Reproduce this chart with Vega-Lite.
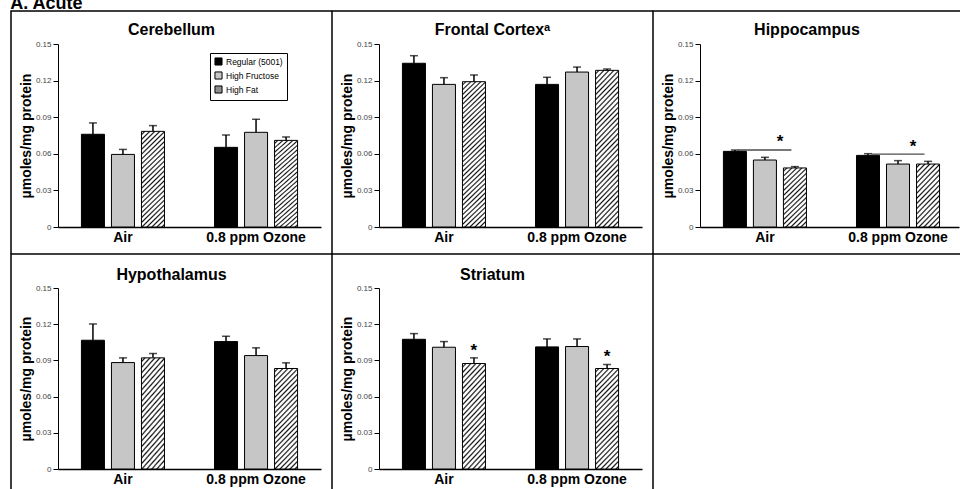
{
  "$schema": "https://vega.github.io/schema/vega-lite/v6.json",
  "padding": {"left": 10, "top": -5, "right": -2, "bottom": -2},
  "title": {"text": "A. Acute", "anchor": "start", "frame": "bounds", "fontSize": 18, "fontWeight": "bold", "color": "black", "offset": -3, "baseline": "top"},
  "columns": 3,
  "spacing": 0,
  "bounds": "flush",
  "resolve": {"scale": {"x": "independent", "y": "independent", "xOffset": "independent", "fill": "independent"}, "legend": {"fill": "independent"}},
  "datasets": {
    "bars": [
      {"region": "Cerebellum", "exposure": "Air", "diet": "Regular (5001)", "mean": 0.0760, "upper": 0.0853},
      {"region": "Cerebellum", "exposure": "Air", "diet": "High Fructose", "mean": 0.0595, "upper": 0.0636},
      {"region": "Cerebellum", "exposure": "Air", "diet": "High Fat", "mean": 0.0784, "upper": 0.0831},
      {"region": "Cerebellum", "exposure": "0.8 ppm Ozone", "diet": "Regular (5001)", "mean": 0.0653, "upper": 0.0754},
      {"region": "Cerebellum", "exposure": "0.8 ppm Ozone", "diet": "High Fructose", "mean": 0.0776, "upper": 0.0883},
      {"region": "Cerebellum", "exposure": "0.8 ppm Ozone", "diet": "High Fat", "mean": 0.0710, "upper": 0.0738},
      {"region": "Frontal Cortex", "exposure": "Air", "diet": "Regular (5001)", "mean": 0.1342, "upper": 0.1404},
      {"region": "Frontal Cortex", "exposure": "Air", "diet": "High Fructose", "mean": 0.1169, "upper": 0.1224},
      {"region": "Frontal Cortex", "exposure": "Air", "diet": "High Fat", "mean": 0.1191, "upper": 0.1246},
      {"region": "Frontal Cortex", "exposure": "0.8 ppm Ozone", "diet": "Regular (5001)", "mean": 0.1169, "upper": 0.1227},
      {"region": "Frontal Cortex", "exposure": "0.8 ppm Ozone", "diet": "High Fructose", "mean": 0.1270, "upper": 0.1311},
      {"region": "Frontal Cortex", "exposure": "0.8 ppm Ozone", "diet": "High Fat", "mean": 0.1284, "upper": 0.1295},
      {"region": "Hippocampus", "exposure": "Air", "diet": "Regular (5001)", "mean": 0.0620, "upper": 0.0631},
      {"region": "Hippocampus", "exposure": "Air", "diet": "High Fructose", "mean": 0.0549, "upper": 0.0571},
      {"region": "Hippocampus", "exposure": "Air", "diet": "High Fat", "mean": 0.0484, "upper": 0.0495},
      {"region": "Hippocampus", "exposure": "0.8 ppm Ozone", "diet": "Regular (5001)", "mean": 0.0587, "upper": 0.0601},
      {"region": "Hippocampus", "exposure": "0.8 ppm Ozone", "diet": "High Fructose", "mean": 0.0516, "upper": 0.0544},
      {"region": "Hippocampus", "exposure": "0.8 ppm Ozone", "diet": "High Fat", "mean": 0.0516, "upper": 0.0538},
      {"region": "Hypothalamus", "exposure": "Air", "diet": "Regular (5001)", "mean": 0.1067, "upper": 0.1202},
      {"region": "Hypothalamus", "exposure": "Air", "diet": "High Fructose", "mean": 0.0882, "upper": 0.0921},
      {"region": "Hypothalamus", "exposure": "Air", "diet": "High Fat", "mean": 0.0921, "upper": 0.0957},
      {"region": "Hypothalamus", "exposure": "0.8 ppm Ozone", "diet": "Regular (5001)", "mean": 0.1056, "upper": 0.1100},
      {"region": "Hypothalamus", "exposure": "0.8 ppm Ozone", "diet": "High Fructose", "mean": 0.0940, "upper": 0.1004},
      {"region": "Hypothalamus", "exposure": "0.8 ppm Ozone", "diet": "High Fat", "mean": 0.0833, "upper": 0.0880},
      {"region": "Striatum", "exposure": "Air", "diet": "Regular (5001)", "mean": 0.1075, "upper": 0.1122},
      {"region": "Striatum", "exposure": "Air", "diet": "High Fructose", "mean": 0.1009, "upper": 0.1056},
      {"region": "Striatum", "exposure": "Air", "diet": "High Fat", "mean": 0.0874, "upper": 0.0921},
      {"region": "Striatum", "exposure": "0.8 ppm Ozone", "diet": "Regular (5001)", "mean": 0.1012, "upper": 0.1078},
      {"region": "Striatum", "exposure": "0.8 ppm Ozone", "diet": "High Fructose", "mean": 0.1015, "upper": 0.1078},
      {"region": "Striatum", "exposure": "0.8 ppm Ozone", "diet": "High Fat", "mean": 0.0833, "upper": 0.0866}
    ],
    "sig": [
      {"region": "Hippocampus", "exposure": "Air", "line_y": 0.0631, "star_y": 0.0652},
      {"region": "Hippocampus", "exposure": "0.8 ppm Ozone", "line_y": 0.0598, "star_y": 0.0617},
      {"region": "Striatum", "exposure": "Air", "star_y": 0.0936},
      {"region": "Striatum", "exposure": "0.8 ppm Ozone", "star_y": 0.0884}
    ]
  },
  "concat": [
    {
      "width": 321, "height": 243,
      "view": {"stroke": "black", "strokeWidth": 1.5, "strokeDash": [321, 564, 245]},
      "title": {"text": "Cerebellum", "offset": -27},
      "data": {"name": "bars"},
      "transform": [{"filter": "datum.region === 'Cerebellum'"}],
      "encoding": {
        "x": {"field": "exposure", "type": "nominal", "sort": ["Air", "0.8 ppm Ozone"], "title": null, "scale": {"range": [47, 310], "paddingInner": 0.376, "paddingOuter": 0.176}, "axis": {"offset": -27}},
        "y": {"field": "mean", "type": "quantitative", "title": "µmoles/mg protein", "scale": {"domain": [0, 0.15], "range": [216, 33], "nice": false}, "axis": {"offset": -47, "values": [0, 0.03, 0.06, 0.09, 0.12, 0.15], "labelExpr": "datum.value === 0 ? '0' : format(datum.value, '.2f')"}}
      },
      "layer": [
        {"mark": {"type": "bar", "stroke": "black", "strokeWidth": 1},
         "encoding": {
           "xOffset": {"field": "diet", "type": "nominal", "sort": ["Regular (5001)", "High Fructose", "High Fat"], "scale": {"paddingInner": 0.233, "paddingOuter": 0}},
           "fill": {"field": "diet", "type": "nominal",
             "scale": {"domain": ["Regular (5001)", "High Fructose", "High Fat"], "range": ["#000000", "#c6c6c6", "#8f8f8f"]},
             "legend": {"orient": "none", "legendX": 199, "legendY": 42, "title": null, "labelFontSize": 8.5, "labelColor": "black", "symbolType": "square", "symbolSize": 50, "symbolStrokeColor": "black", "symbolStrokeWidth": 1, "strokeColor": "black", "fillColor": "white", "padding": 4, "rowPadding": 1, "labelOffset": 3},
             "condition": {"test": "datum.diet === 'High Fat'", "value": {"gradient": "linear", "x1": 0, "y1": 0, "x2": 0.454, "y2": 1.9343, "stops": [{"offset":0,"color":"#fff"},{"offset":0.009,"color":"#fff"},{"offset":0.017,"color":"#111"},{"offset":0.025,"color":"#fff"},{"offset":0.034,"color":"#fff"},{"offset":0.042,"color":"#111"},{"offset":0.05,"color":"#fff"},{"offset":0.059,"color":"#fff"},{"offset":0.067,"color":"#111"},{"offset":0.075,"color":"#fff"},{"offset":0.084,"color":"#fff"},{"offset":0.092,"color":"#111"},{"offset":0.1,"color":"#fff"},{"offset":0.109,"color":"#fff"},{"offset":0.117,"color":"#111"},{"offset":0.125,"color":"#fff"},{"offset":0.134,"color":"#fff"},{"offset":0.142,"color":"#111"},{"offset":0.15,"color":"#fff"},{"offset":0.159,"color":"#fff"},{"offset":0.167,"color":"#111"},{"offset":0.175,"color":"#fff"},{"offset":0.184,"color":"#fff"},{"offset":0.192,"color":"#111"},{"offset":0.2,"color":"#fff"},{"offset":0.209,"color":"#fff"},{"offset":0.217,"color":"#111"},{"offset":0.225,"color":"#fff"},{"offset":0.234,"color":"#fff"},{"offset":0.242,"color":"#111"},{"offset":0.25,"color":"#fff"},{"offset":0.259,"color":"#fff"},{"offset":0.267,"color":"#111"},{"offset":0.275,"color":"#fff"},{"offset":0.284,"color":"#fff"},{"offset":0.292,"color":"#111"},{"offset":0.3,"color":"#fff"},{"offset":0.309,"color":"#fff"},{"offset":0.317,"color":"#111"},{"offset":0.325,"color":"#fff"},{"offset":0.334,"color":"#fff"},{"offset":0.342,"color":"#111"},{"offset":0.35,"color":"#fff"},{"offset":0.359,"color":"#fff"},{"offset":0.367,"color":"#111"},{"offset":0.375,"color":"#fff"},{"offset":0.384,"color":"#fff"},{"offset":0.392,"color":"#111"},{"offset":0.4,"color":"#fff"},{"offset":0.409,"color":"#fff"},{"offset":0.417,"color":"#111"},{"offset":0.425,"color":"#fff"},{"offset":0.434,"color":"#fff"},{"offset":0.442,"color":"#111"},{"offset":0.45,"color":"#fff"},{"offset":0.459,"color":"#fff"},{"offset":0.467,"color":"#111"},{"offset":0.475,"color":"#fff"},{"offset":0.484,"color":"#fff"},{"offset":0.492,"color":"#111"},{"offset":0.5,"color":"#fff"},{"offset":0.509,"color":"#fff"},{"offset":0.517,"color":"#111"},{"offset":0.525,"color":"#fff"},{"offset":0.534,"color":"#fff"},{"offset":0.542,"color":"#111"},{"offset":0.55,"color":"#fff"},{"offset":0.559,"color":"#fff"},{"offset":0.567,"color":"#111"},{"offset":0.575,"color":"#fff"},{"offset":0.584,"color":"#fff"},{"offset":0.592,"color":"#111"},{"offset":0.6,"color":"#fff"},{"offset":0.609,"color":"#fff"},{"offset":0.617,"color":"#111"},{"offset":0.625,"color":"#fff"}]}}
           }
         }},
        {"mark": {"type": "rule", "color": "black", "strokeWidth": 1.5},
         "encoding": {"xOffset": {"field": "diet", "type": "nominal", "sort": ["Regular (5001)", "High Fructose", "High Fat"]}, "y2": {"field": "upper"}}},
        {"mark": {"type": "tick", "color": "black", "size": 8, "thickness": 1.5},
         "encoding": {"xOffset": {"field": "diet", "type": "nominal", "sort": ["Regular (5001)", "High Fructose", "High Fat"]}, "y": {"field": "upper", "type": "quantitative", "title": "µmoles/mg protein"}}}
      ]
    },
    {
      "width": 321, "height": 243,
      "view": {"stroke": "black", "strokeWidth": 1.5, "strokeDash": [321, 564, 245]},
      "title": {"text": "Frontal Cortexᵃ", "offset": -27},
      "data": {"name": "bars"},
      "transform": [{"filter": "datum.region === 'Frontal Cortex'"}],
      "encoding": {
        "x": {"field": "exposure", "type": "nominal", "sort": ["Air", "0.8 ppm Ozone"], "title": null, "scale": {"range": [47, 310], "paddingInner": 0.376, "paddingOuter": 0.176}, "axis": {"offset": -27}},
        "y": {"field": "mean", "type": "quantitative", "title": "µmoles/mg protein", "scale": {"domain": [0, 0.15], "range": [216, 33], "nice": false}, "axis": {"offset": -47, "values": [0, 0.03, 0.06, 0.09, 0.12, 0.15], "labelExpr": "datum.value === 0 ? '0' : format(datum.value, '.2f')"}}
      },
      "layer": [
        {"mark": {"type": "bar", "stroke": "black", "strokeWidth": 1},
         "encoding": {
           "xOffset": {"field": "diet", "type": "nominal", "sort": ["Regular (5001)", "High Fructose", "High Fat"], "scale": {"paddingInner": 0.233, "paddingOuter": 0}},
           "fill": {"field": "diet", "type": "nominal",
             "scale": {"domain": ["Regular (5001)", "High Fructose", "High Fat"], "range": ["#000000", "#c6c6c6", "#ffffff"]},
             "legend": null,
             "condition": {"test": "datum.diet === 'High Fat'", "value": {"gradient": "linear", "x1": 0, "y1": 0, "x2": 0.19717, "y2": 1.2945, "stops": [{"offset":0,"color":"#fff"},{"offset":0.009,"color":"#fff"},{"offset":0.017,"color":"#111"},{"offset":0.025,"color":"#fff"},{"offset":0.034,"color":"#fff"},{"offset":0.042,"color":"#111"},{"offset":0.05,"color":"#fff"},{"offset":0.059,"color":"#fff"},{"offset":0.067,"color":"#111"},{"offset":0.075,"color":"#fff"},{"offset":0.084,"color":"#fff"},{"offset":0.092,"color":"#111"},{"offset":0.1,"color":"#fff"},{"offset":0.109,"color":"#fff"},{"offset":0.117,"color":"#111"},{"offset":0.125,"color":"#fff"},{"offset":0.134,"color":"#fff"},{"offset":0.142,"color":"#111"},{"offset":0.15,"color":"#fff"},{"offset":0.159,"color":"#fff"},{"offset":0.167,"color":"#111"},{"offset":0.175,"color":"#fff"},{"offset":0.184,"color":"#fff"},{"offset":0.192,"color":"#111"},{"offset":0.2,"color":"#fff"},{"offset":0.209,"color":"#fff"},{"offset":0.217,"color":"#111"},{"offset":0.225,"color":"#fff"},{"offset":0.234,"color":"#fff"},{"offset":0.242,"color":"#111"},{"offset":0.25,"color":"#fff"},{"offset":0.259,"color":"#fff"},{"offset":0.267,"color":"#111"},{"offset":0.275,"color":"#fff"},{"offset":0.284,"color":"#fff"},{"offset":0.292,"color":"#111"},{"offset":0.3,"color":"#fff"},{"offset":0.309,"color":"#fff"},{"offset":0.317,"color":"#111"},{"offset":0.325,"color":"#fff"},{"offset":0.334,"color":"#fff"},{"offset":0.342,"color":"#111"},{"offset":0.35,"color":"#fff"},{"offset":0.359,"color":"#fff"},{"offset":0.367,"color":"#111"},{"offset":0.375,"color":"#fff"},{"offset":0.384,"color":"#fff"},{"offset":0.392,"color":"#111"},{"offset":0.4,"color":"#fff"},{"offset":0.409,"color":"#fff"},{"offset":0.417,"color":"#111"},{"offset":0.425,"color":"#fff"},{"offset":0.434,"color":"#fff"},{"offset":0.442,"color":"#111"},{"offset":0.45,"color":"#fff"},{"offset":0.459,"color":"#fff"},{"offset":0.467,"color":"#111"},{"offset":0.475,"color":"#fff"},{"offset":0.484,"color":"#fff"},{"offset":0.492,"color":"#111"},{"offset":0.5,"color":"#fff"},{"offset":0.509,"color":"#fff"},{"offset":0.517,"color":"#111"},{"offset":0.525,"color":"#fff"},{"offset":0.534,"color":"#fff"},{"offset":0.542,"color":"#111"},{"offset":0.55,"color":"#fff"},{"offset":0.559,"color":"#fff"},{"offset":0.567,"color":"#111"},{"offset":0.575,"color":"#fff"},{"offset":0.584,"color":"#fff"},{"offset":0.592,"color":"#111"},{"offset":0.6,"color":"#fff"},{"offset":0.609,"color":"#fff"},{"offset":0.617,"color":"#111"},{"offset":0.625,"color":"#fff"},{"offset":0.634,"color":"#fff"},{"offset":0.642,"color":"#111"},{"offset":0.65,"color":"#fff"},{"offset":0.659,"color":"#fff"},{"offset":0.667,"color":"#111"},{"offset":0.675,"color":"#fff"},{"offset":0.684,"color":"#fff"},{"offset":0.692,"color":"#111"},{"offset":0.7,"color":"#fff"},{"offset":0.709,"color":"#fff"},{"offset":0.717,"color":"#111"},{"offset":0.725,"color":"#fff"},{"offset":0.734,"color":"#fff"},{"offset":0.742,"color":"#111"},{"offset":0.75,"color":"#fff"},{"offset":0.759,"color":"#fff"},{"offset":0.767,"color":"#111"},{"offset":0.775,"color":"#fff"},{"offset":0.784,"color":"#fff"},{"offset":0.792,"color":"#111"},{"offset":0.8,"color":"#fff"},{"offset":0.809,"color":"#fff"},{"offset":0.817,"color":"#111"},{"offset":0.825,"color":"#fff"},{"offset":0.834,"color":"#fff"},{"offset":0.842,"color":"#111"},{"offset":0.85,"color":"#fff"},{"offset":0.859,"color":"#fff"},{"offset":0.867,"color":"#111"},{"offset":0.875,"color":"#fff"}]}}
           }
         }},
        {"mark": {"type": "rule", "color": "black", "strokeWidth": 1.5},
         "encoding": {"xOffset": {"field": "diet", "type": "nominal", "sort": ["Regular (5001)", "High Fructose", "High Fat"]}, "y2": {"field": "upper"}}},
        {"mark": {"type": "tick", "color": "black", "size": 8, "thickness": 1.5},
         "encoding": {"xOffset": {"field": "diet", "type": "nominal", "sort": ["Regular (5001)", "High Fructose", "High Fat"]}, "y": {"field": "upper", "type": "quantitative", "title": "µmoles/mg protein"}}}
      ]
    },
    {
      "width": 308, "height": 243,
      "view": {"stroke": "black", "strokeWidth": 1.5, "strokeDash": [308, 551, 245]},
      "title": {"text": "Hippocampus", "offset": -27},
      "encoding": {
        "x": {"field": "exposure", "type": "nominal", "sort": ["Air", "0.8 ppm Ozone"], "title": null, "scale": {"range": [47, 306], "paddingInner": 0.376, "paddingOuter": 0.161, "align": 0.546}, "axis": {"offset": -27}},
        "y": {"field": "mean", "type": "quantitative", "title": "µmoles/mg protein", "scale": {"domain": [0, 0.15], "range": [216, 33], "nice": false}, "axis": {"offset": -47, "values": [0, 0.03, 0.06, 0.09, 0.12, 0.15], "labelExpr": "datum.value === 0 ? '0' : format(datum.value, '.2f')"}}
      },
      "layer": [
        {"data": {"name": "bars"}, "transform": [{"filter": "datum.region === 'Hippocampus'"}],
         "mark": {"type": "bar", "stroke": "black", "strokeWidth": 1},
         "encoding": {
           "xOffset": {"field": "diet", "type": "nominal", "sort": ["Regular (5001)", "High Fructose", "High Fat"], "scale": {"paddingInner": 0.233, "paddingOuter": 0}},
           "fill": {"field": "diet", "type": "nominal",
             "scale": {"domain": ["Regular (5001)", "High Fructose", "High Fat"], "range": ["#000000", "#c6c6c6", "#ffffff"]},
             "legend": null,
             "condition": {"test": "datum.diet === 'High Fat'", "value": {"gradient": "linear", "x1": 0, "y1": 0, "x2": 1.0824, "y2": 2.8706, "stops": [{"offset":0,"color":"#fff"},{"offset":0.009,"color":"#fff"},{"offset":0.017,"color":"#111"},{"offset":0.025,"color":"#fff"},{"offset":0.034,"color":"#fff"},{"offset":0.042,"color":"#111"},{"offset":0.05,"color":"#fff"},{"offset":0.059,"color":"#fff"},{"offset":0.067,"color":"#111"},{"offset":0.075,"color":"#fff"},{"offset":0.084,"color":"#fff"},{"offset":0.092,"color":"#111"},{"offset":0.1,"color":"#fff"},{"offset":0.109,"color":"#fff"},{"offset":0.117,"color":"#111"},{"offset":0.125,"color":"#fff"},{"offset":0.134,"color":"#fff"},{"offset":0.142,"color":"#111"},{"offset":0.15,"color":"#fff"},{"offset":0.159,"color":"#fff"},{"offset":0.167,"color":"#111"},{"offset":0.175,"color":"#fff"},{"offset":0.184,"color":"#fff"},{"offset":0.192,"color":"#111"},{"offset":0.2,"color":"#fff"},{"offset":0.209,"color":"#fff"},{"offset":0.217,"color":"#111"},{"offset":0.225,"color":"#fff"},{"offset":0.234,"color":"#fff"},{"offset":0.242,"color":"#111"},{"offset":0.25,"color":"#fff"},{"offset":0.259,"color":"#fff"},{"offset":0.267,"color":"#111"},{"offset":0.275,"color":"#fff"},{"offset":0.284,"color":"#fff"},{"offset":0.292,"color":"#111"},{"offset":0.3,"color":"#fff"},{"offset":0.309,"color":"#fff"},{"offset":0.317,"color":"#111"},{"offset":0.325,"color":"#fff"},{"offset":0.334,"color":"#fff"},{"offset":0.342,"color":"#111"},{"offset":0.35,"color":"#fff"},{"offset":0.359,"color":"#fff"},{"offset":0.367,"color":"#111"},{"offset":0.375,"color":"#fff"},{"offset":0.384,"color":"#fff"},{"offset":0.392,"color":"#111"},{"offset":0.4,"color":"#fff"},{"offset":0.409,"color":"#fff"},{"offset":0.417,"color":"#111"},{"offset":0.425,"color":"#fff"}]}}
           }
         }},
        {"data": {"name": "bars"}, "transform": [{"filter": "datum.region === 'Hippocampus'"}],
         "mark": {"type": "rule", "color": "black", "strokeWidth": 1.5},
         "encoding": {"xOffset": {"field": "diet", "type": "nominal", "sort": ["Regular (5001)", "High Fructose", "High Fat"]}, "y2": {"field": "upper"}}},
        {"data": {"name": "bars"}, "transform": [{"filter": "datum.region === 'Hippocampus'"}],
         "mark": {"type": "tick", "color": "black", "size": 8, "thickness": 1.5},
         "encoding": {"xOffset": {"field": "diet", "type": "nominal", "sort": ["Regular (5001)", "High Fructose", "High Fat"]}, "y": {"field": "upper", "type": "quantitative", "title": "µmoles/mg protein"}}},
        {"data": {"name": "sig"}, "transform": [{"filter": "datum.region === 'Hippocampus'"}],
         "mark": {"type": "tick", "color": "black", "size": 53, "thickness": 1.3},
         "encoding": {"x": {"field": "exposure", "type": "nominal", "sort": ["Air", "0.8 ppm Ozone"], "title": null, "bandPosition": 0.681}, "y": {"field": "line_y", "type": "quantitative", "title": "µmoles/mg protein"}}},
        {"data": {"name": "sig"}, "transform": [{"filter": "datum.region === 'Hippocampus'"}],
         "mark": {"type": "text", "text": "*", "fontSize": 17, "fontWeight": "bold", "baseline": "alphabetic", "align": "center", "color": "black"},
         "encoding": {"x": {"field": "exposure", "type": "nominal", "sort": ["Air", "0.8 ppm Ozone"], "title": null, "bandPosition": 0.681}, "y": {"field": "star_y", "type": "quantitative", "title": "µmoles/mg protein"}}}
      ]
    },
    {
      "width": 321, "height": 236,
      "view": {"stroke": "black", "strokeWidth": 1.5, "strokeDash": [321, 557, 238]},
      "title": {"text": "Hypothalamus", "offset": -29},
      "data": {"name": "bars"},
      "transform": [{"filter": "datum.region === 'Hypothalamus'"}],
      "encoding": {
        "x": {"field": "exposure", "type": "nominal", "sort": ["Air", "0.8 ppm Ozone"], "title": null, "scale": {"range": [47, 310], "paddingInner": 0.376, "paddingOuter": 0.176}, "axis": {"offset": -21}},
        "y": {"field": "mean", "type": "quantitative", "title": "µmoles/mg protein", "scale": {"domain": [0, 0.15], "range": [215, 34], "nice": false}, "axis": {"offset": -47, "values": [0, 0.03, 0.06, 0.09, 0.12, 0.15], "labelExpr": "datum.value === 0 ? '0' : format(datum.value, '.2f')"}}
      },
      "layer": [
        {"mark": {"type": "bar", "stroke": "black", "strokeWidth": 1},
         "encoding": {
           "xOffset": {"field": "diet", "type": "nominal", "sort": ["Regular (5001)", "High Fructose", "High Fat"], "scale": {"paddingInner": 0.233, "paddingOuter": 0}},
           "fill": {"field": "diet", "type": "nominal",
             "scale": {"domain": ["Regular (5001)", "High Fructose", "High Fat"], "range": ["#000000", "#c6c6c6", "#ffffff"]},
             "legend": null,
             "condition": {"test": "datum.diet === 'High Fat'", "value": {"gradient": "linear", "x1": 0, "y1": 0, "x2": 0.454, "y2": 1.9343, "stops": [{"offset":0,"color":"#fff"},{"offset":0.009,"color":"#fff"},{"offset":0.017,"color":"#111"},{"offset":0.025,"color":"#fff"},{"offset":0.034,"color":"#fff"},{"offset":0.042,"color":"#111"},{"offset":0.05,"color":"#fff"},{"offset":0.059,"color":"#fff"},{"offset":0.067,"color":"#111"},{"offset":0.075,"color":"#fff"},{"offset":0.084,"color":"#fff"},{"offset":0.092,"color":"#111"},{"offset":0.1,"color":"#fff"},{"offset":0.109,"color":"#fff"},{"offset":0.117,"color":"#111"},{"offset":0.125,"color":"#fff"},{"offset":0.134,"color":"#fff"},{"offset":0.142,"color":"#111"},{"offset":0.15,"color":"#fff"},{"offset":0.159,"color":"#fff"},{"offset":0.167,"color":"#111"},{"offset":0.175,"color":"#fff"},{"offset":0.184,"color":"#fff"},{"offset":0.192,"color":"#111"},{"offset":0.2,"color":"#fff"},{"offset":0.209,"color":"#fff"},{"offset":0.217,"color":"#111"},{"offset":0.225,"color":"#fff"},{"offset":0.234,"color":"#fff"},{"offset":0.242,"color":"#111"},{"offset":0.25,"color":"#fff"},{"offset":0.259,"color":"#fff"},{"offset":0.267,"color":"#111"},{"offset":0.275,"color":"#fff"},{"offset":0.284,"color":"#fff"},{"offset":0.292,"color":"#111"},{"offset":0.3,"color":"#fff"},{"offset":0.309,"color":"#fff"},{"offset":0.317,"color":"#111"},{"offset":0.325,"color":"#fff"},{"offset":0.334,"color":"#fff"},{"offset":0.342,"color":"#111"},{"offset":0.35,"color":"#fff"},{"offset":0.359,"color":"#fff"},{"offset":0.367,"color":"#111"},{"offset":0.375,"color":"#fff"},{"offset":0.384,"color":"#fff"},{"offset":0.392,"color":"#111"},{"offset":0.4,"color":"#fff"},{"offset":0.409,"color":"#fff"},{"offset":0.417,"color":"#111"},{"offset":0.425,"color":"#fff"},{"offset":0.434,"color":"#fff"},{"offset":0.442,"color":"#111"},{"offset":0.45,"color":"#fff"},{"offset":0.459,"color":"#fff"},{"offset":0.467,"color":"#111"},{"offset":0.475,"color":"#fff"},{"offset":0.484,"color":"#fff"},{"offset":0.492,"color":"#111"},{"offset":0.5,"color":"#fff"},{"offset":0.509,"color":"#fff"},{"offset":0.517,"color":"#111"},{"offset":0.525,"color":"#fff"},{"offset":0.534,"color":"#fff"},{"offset":0.542,"color":"#111"},{"offset":0.55,"color":"#fff"},{"offset":0.559,"color":"#fff"},{"offset":0.567,"color":"#111"},{"offset":0.575,"color":"#fff"},{"offset":0.584,"color":"#fff"},{"offset":0.592,"color":"#111"},{"offset":0.6,"color":"#fff"},{"offset":0.609,"color":"#fff"},{"offset":0.617,"color":"#111"},{"offset":0.625,"color":"#fff"}]}}
           }
         }},
        {"mark": {"type": "rule", "color": "black", "strokeWidth": 1.5},
         "encoding": {"xOffset": {"field": "diet", "type": "nominal", "sort": ["Regular (5001)", "High Fructose", "High Fat"]}, "y2": {"field": "upper"}}},
        {"mark": {"type": "tick", "color": "black", "size": 8, "thickness": 1.5},
         "encoding": {"xOffset": {"field": "diet", "type": "nominal", "sort": ["Regular (5001)", "High Fructose", "High Fat"]}, "y": {"field": "upper", "type": "quantitative", "title": "µmoles/mg protein"}}}
      ]
    },
    {
      "width": 321, "height": 236,
      "view": {"stroke": "black", "strokeWidth": 1.5, "strokeDash": [321, 557, 238]},
      "title": {"text": "Striatum", "offset": -29},
      "encoding": {
        "x": {"field": "exposure", "type": "nominal", "sort": ["Air", "0.8 ppm Ozone"], "title": null, "scale": {"range": [47, 310], "paddingInner": 0.376, "paddingOuter": 0.176}, "axis": {"offset": -21}},
        "y": {"field": "mean", "type": "quantitative", "title": "µmoles/mg protein", "scale": {"domain": [0, 0.15], "range": [215, 34], "nice": false}, "axis": {"offset": -47, "values": [0, 0.03, 0.06, 0.09, 0.12, 0.15], "labelExpr": "datum.value === 0 ? '0' : format(datum.value, '.2f')"}}
      },
      "layer": [
        {"data": {"name": "bars"}, "transform": [{"filter": "datum.region === 'Striatum'"}],
         "mark": {"type": "bar", "stroke": "black", "strokeWidth": 1},
         "encoding": {
           "xOffset": {"field": "diet", "type": "nominal", "sort": ["Regular (5001)", "High Fructose", "High Fat"], "scale": {"paddingInner": 0.233, "paddingOuter": 0}},
           "fill": {"field": "diet", "type": "nominal",
             "scale": {"domain": ["Regular (5001)", "High Fructose", "High Fat"], "range": ["#000000", "#c6c6c6", "#ffffff"]},
             "legend": null,
             "condition": {"test": "datum.diet === 'High Fat'", "value": {"gradient": "linear", "x1": 0, "y1": 0, "x2": 0.454, "y2": 1.9343, "stops": [{"offset":0,"color":"#fff"},{"offset":0.009,"color":"#fff"},{"offset":0.017,"color":"#111"},{"offset":0.025,"color":"#fff"},{"offset":0.034,"color":"#fff"},{"offset":0.042,"color":"#111"},{"offset":0.05,"color":"#fff"},{"offset":0.059,"color":"#fff"},{"offset":0.067,"color":"#111"},{"offset":0.075,"color":"#fff"},{"offset":0.084,"color":"#fff"},{"offset":0.092,"color":"#111"},{"offset":0.1,"color":"#fff"},{"offset":0.109,"color":"#fff"},{"offset":0.117,"color":"#111"},{"offset":0.125,"color":"#fff"},{"offset":0.134,"color":"#fff"},{"offset":0.142,"color":"#111"},{"offset":0.15,"color":"#fff"},{"offset":0.159,"color":"#fff"},{"offset":0.167,"color":"#111"},{"offset":0.175,"color":"#fff"},{"offset":0.184,"color":"#fff"},{"offset":0.192,"color":"#111"},{"offset":0.2,"color":"#fff"},{"offset":0.209,"color":"#fff"},{"offset":0.217,"color":"#111"},{"offset":0.225,"color":"#fff"},{"offset":0.234,"color":"#fff"},{"offset":0.242,"color":"#111"},{"offset":0.25,"color":"#fff"},{"offset":0.259,"color":"#fff"},{"offset":0.267,"color":"#111"},{"offset":0.275,"color":"#fff"},{"offset":0.284,"color":"#fff"},{"offset":0.292,"color":"#111"},{"offset":0.3,"color":"#fff"},{"offset":0.309,"color":"#fff"},{"offset":0.317,"color":"#111"},{"offset":0.325,"color":"#fff"},{"offset":0.334,"color":"#fff"},{"offset":0.342,"color":"#111"},{"offset":0.35,"color":"#fff"},{"offset":0.359,"color":"#fff"},{"offset":0.367,"color":"#111"},{"offset":0.375,"color":"#fff"},{"offset":0.384,"color":"#fff"},{"offset":0.392,"color":"#111"},{"offset":0.4,"color":"#fff"},{"offset":0.409,"color":"#fff"},{"offset":0.417,"color":"#111"},{"offset":0.425,"color":"#fff"},{"offset":0.434,"color":"#fff"},{"offset":0.442,"color":"#111"},{"offset":0.45,"color":"#fff"},{"offset":0.459,"color":"#fff"},{"offset":0.467,"color":"#111"},{"offset":0.475,"color":"#fff"},{"offset":0.484,"color":"#fff"},{"offset":0.492,"color":"#111"},{"offset":0.5,"color":"#fff"},{"offset":0.509,"color":"#fff"},{"offset":0.517,"color":"#111"},{"offset":0.525,"color":"#fff"},{"offset":0.534,"color":"#fff"},{"offset":0.542,"color":"#111"},{"offset":0.55,"color":"#fff"},{"offset":0.559,"color":"#fff"},{"offset":0.567,"color":"#111"},{"offset":0.575,"color":"#fff"},{"offset":0.584,"color":"#fff"},{"offset":0.592,"color":"#111"},{"offset":0.6,"color":"#fff"},{"offset":0.609,"color":"#fff"},{"offset":0.617,"color":"#111"},{"offset":0.625,"color":"#fff"}]}}
           }
         }},
        {"data": {"name": "bars"}, "transform": [{"filter": "datum.region === 'Striatum'"}],
         "mark": {"type": "rule", "color": "black", "strokeWidth": 1.5},
         "encoding": {"xOffset": {"field": "diet", "type": "nominal", "sort": ["Regular (5001)", "High Fructose", "High Fat"]}, "y2": {"field": "upper"}}},
        {"data": {"name": "bars"}, "transform": [{"filter": "datum.region === 'Striatum'"}],
         "mark": {"type": "tick", "color": "black", "size": 8, "thickness": 1.5},
         "encoding": {"xOffset": {"field": "diet", "type": "nominal", "sort": ["Regular (5001)", "High Fructose", "High Fat"]}, "y": {"field": "upper", "type": "quantitative", "title": "µmoles/mg protein"}}},
        {"data": {"name": "sig"}, "transform": [{"filter": "datum.region === 'Striatum'"}],
         "mark": {"type": "text", "text": "*", "fontSize": 17, "fontWeight": "bold", "baseline": "alphabetic", "align": "center", "color": "black"},
         "encoding": {"x": {"field": "exposure", "type": "nominal", "sort": ["Air", "0.8 ppm Ozone"], "title": null, "bandPosition": 0.861}, "y": {"field": "star_y", "type": "quantitative", "title": "µmoles/mg protein"}}}
      ]
    },
    {
      "width": 308, "height": 236,
      "view": {"stroke": "black", "strokeWidth": 1.5, "strokeDash": [308, 544, 238]},
      "data": {"values": []},
      "mark": "point",
      "encoding": {}
    }
  ],
  "config": {
    "font": "Liberation Sans",
    "background": "white",
    "title": {"fontSize": 16, "fontWeight": "bold", "color": "black", "anchor": "middle", "frame": "group", "baseline": "alphabetic"},
    "axisX": {"ticks": false, "labelAngle": 0, "labelFontSize": 14, "labelFontWeight": "bold", "labelColor": "black", "labelPadding": 3, "domainColor": "black", "domainWidth": 1.3, "grid": false},
    "axisY": {"labelFontSize": 8, "labelColor": "#444", "tickSize": 5, "tickColor": "black", "tickWidth": 1, "domainColor": "black", "domainWidth": 1, "labelPadding": 2, "titleFontSize": 14, "titleFontWeight": "bold", "titleColor": "black", "titlePadding": 2, "grid": false}
  }
}
